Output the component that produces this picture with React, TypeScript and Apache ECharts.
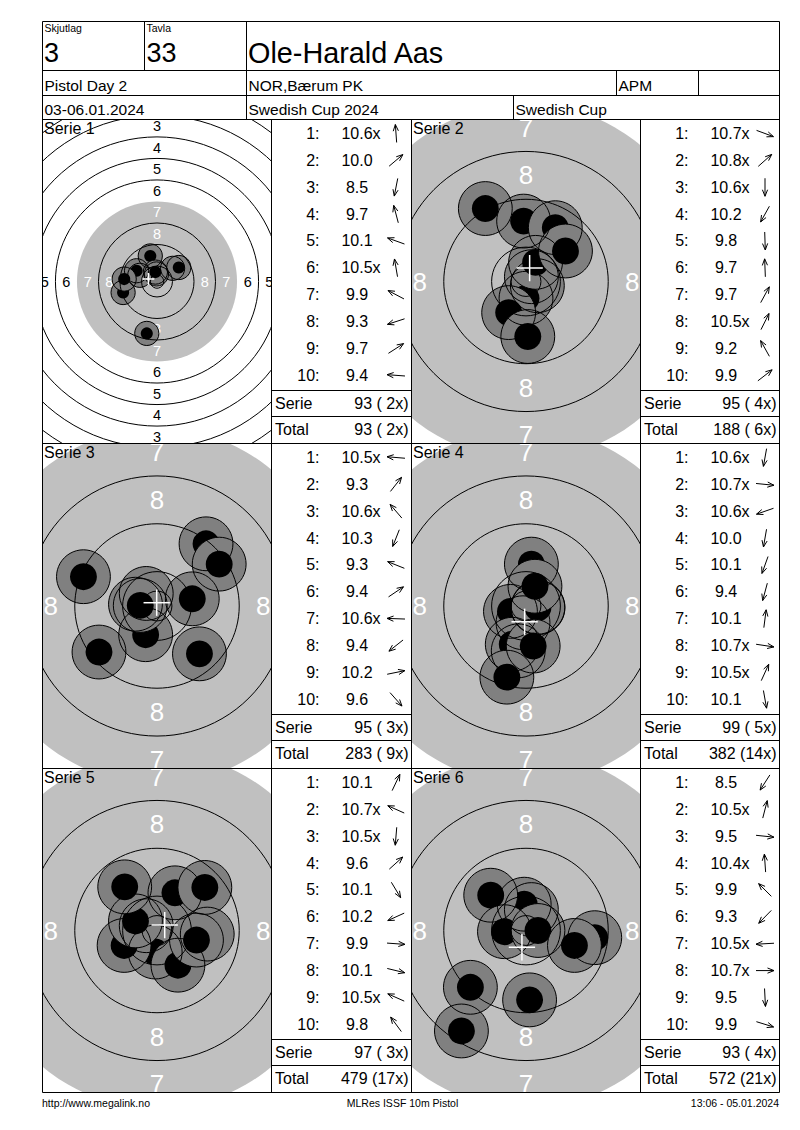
import React, { useEffect, useRef } from "react";
import * as echarts from "echarts";

const FONT = '"Liberation Sans", Arial, sans-serif';

// ---------- header texts ----------
const headerLabels = ["Skjutlag", "Tavla"];
const headerValues = ["3", "33"];
const shooterName = "Ole-Harald Aas";
const eventName = "Pistol Day 2";
const clubName = "NOR,Bærum PK";
const classCode = "APM";
const dateText = "03-06.01.2024";
const competitionName = "Swedish Cup 2024";
const cupName = "Swedish Cup";
const footerTexts = ["http://www.megalink.no", "MLRes ISSF 10m Pistol", "13:06 - 05.01.2024"];

// ---------- series data ----------
const serieNames = ["Serie 1", "Serie 2", "Serie 3", "Serie 4", "Serie 5", "Serie 6"];

const s1Score = [10.6, 10.0, 8.5, 9.7, 10.1, 10.5, 9.9, 9.3, 9.7, 9.4];
const s1Inner = [1, 0, 0, 0, 0, 1, 0, 0, 0, 0];
const s1X = [-0.2, 5.8, -3.8, -2.5, -6.4, -0.6, -7.6, -12.6, 8.1, -12.2];
const s1Y = [2.8, 4.9, -19.3, 9.5, 2.3, 3.5, 4.0, -4.1, 5.2, 0.9];

const s2Score = [10.7, 10.8, 10.6, 10.2, 9.8, 9.7, 9.7, 10.5, 9.2, 9.9];
const s2Inner = [1, 1, 1, 0, 0, 0, 0, 1, 0, 0];
const s2X = [1.9, 0.9, 0.0, -2.9, 0.3, -0.4, 4.9, 1.6, -6.8, 6.6];
const s2Y = [-0.7, 0.8, -2.8, -5.2, -9.2, 10.1, 9.0, 3.2, 12.2, 5.1];

const s3Score = [10.5, 9.3, 10.6, 10.3, 9.3, 9.4, 10.6, 9.4, 10.2, 9.6];
const s3Inner = [1, 0, 1, 0, 0, 0, 1, 0, 0, 0];
const s3X = [-3.6, 8.2, -1.8, -1.9, -12.3, 10.4, -2.8, -9.7, 5.9, 7.1];
const s3Y = [0.3, 10.4, 2.1, -4.8, 4.9, 7.0, 0.1, -7.7, 1.2, -8.0];

const s4Score = [10.6, 10.7, 10.6, 10.0, 10.1, 9.4, 10.1, 10.7, 10.5, 10.1];
const s4Inner = [1, 1, 1, 0, 0, 0, 0, 1, 1, 0];
const s4X = [-0.5, 2.0, -2.6, -1.3, -2.3, -3.2, 0.9, 2.0, 1.5, 1.2];
const s4Y = [-2.8, -0.2, -0.9, -7.5, -6.4, -11.9, 7.0, -0.3, 3.3, -6.7];

const s5Score = [10.1, 10.7, 10.5, 9.6, 10.1, 10.2, 9.9, 10.1, 10.5, 9.8];
const s5Inner = [0, 1, 1, 0, 0, 0, 0, 0, 1, 0];
const s5X = [3.0, -1.8, -0.3, 8.0, 3.5, -5.5, 8.4, 6.6, -3.6, -5.4];
const s5Y = [6.3, 0.8, -3.6, 7.2, -5.8, -2.5, -0.6, -1.6, 1.6, 7.3];

const s6Score = [8.5, 10.5, 9.5, 10.4, 9.9, 9.3, 10.5, 10.7, 9.5, 9.9];
const s6Inner = [0, 1, 0, 1, 0, 0, 1, 1, 0, 0];
const s6X = [-10.8, 0.9, 11.5, -0.3, -5.9, -9.3, -3.6, 2.0, 0.6, 8.1];
const s6Y = [-16.8, 3.5, -1.2, 4.4, 5.9, -9.5, -0.2, 0.0, -11.6, -2.5];

const serieTotals = [93, 95, 95, 99, 97, 93];
const serieInners = [2, 4, 3, 5, 3, 4];
const runningTotals = [93, 188, 283, 382, 479, 572];
const runningInners = [2, 6, 9, 14, 17, 21];

// ---------- target geometry (mm) ----------
const ringNumbers = [1, 2, 3, 4, 5, 6, 7, 8, 9, 10];
const ringRadiiMm = [77.75, 69.75, 61.75, 53.75, 45.75, 37.75, 29.75, 21.75, 13.75, 5.75];
const ringLabelNumbers = [1, 2, 3, 4, 5, 6, 7, 8];
const innerTenRadiusMm = 2.5;
const shotOuterMm = 4.5;
const pelletMm = 2.25;
const crossHalfMm = 2.2;

const shots = [
  { score: s1Score, inner: s1Inner, x: s1X, y: s1Y },
  { score: s2Score, inner: s2Inner, x: s2X, y: s2Y },
  { score: s3Score, inner: s3Inner, x: s3X, y: s3Y },
  { score: s4Score, inner: s4Inner, x: s4X, y: s4Y },
  { score: s5Score, inner: s5Inner, x: s5X, y: s5Y },
  { score: s6Score, inner: s6Inner, x: s6X, y: s6Y },
];

// ---------- layout ----------
const L = 42.5;
const R = 779.5;
const TOP = 21.5;
const rowTops = [119.5, 443.5, 768.5];
const BOTTOM = 1092.5;
const targetLefts = [42.5, 411.5];
const tableLefts = [271.5, 640.5];
const tableRights = [411.5, 779.5];
const TARGET_W = 229;
const panelScale = [2.69, 5.98, 5.98, 5.98, 5.98, 5.98];
const labelFontSize = [14.5, 26, 26, 26, 26, 26];

function txt(text: string, x: number, y: number, size: number, align = "left", color = "#000") {
  return {
    type: "text",
    x,
    y,
    z: 10,
    silent: true,
    style: {
      text,
      fill: color,
      fontSize: size,
      fontFamily: FONT,
      align,
      verticalAlign: "middle",
      textAlign: align,
      textVerticalAlign: "middle",
    },
  };
}

function ln(x1: number, y1: number, x2: number, y2: number) {
  return {
    type: "line",
    z: 10,
    silent: true,
    shape: { x1, y1, x2, y2 },
    style: { stroke: "#000", lineWidth: 1 },
  };
}

function buildOption() {
  const ctx = document.createElement("canvas").getContext("2d")!;
  ctx.font = `16px ${FONT}`;

  const graphic: any[] = [];
  // outer frame and header lines
  [TOP, 70.5, 95.5, 119.5, 443.5, 768.5, BOTTOM].forEach((y) => graphic.push(ln(L, y, R, y)));
  graphic.push(ln(L, TOP, L, BOTTOM));
  graphic.push(ln(R, TOP, R, BOTTOM));
  graphic.push(ln(144.5, TOP, 144.5, 70.5));
  graphic.push(ln(246.5, TOP, 246.5, 119.5));
  graphic.push(ln(616.5, 70.5, 616.5, 95.5));
  graphic.push(ln(698.5, 70.5, 698.5, 95.5));
  graphic.push(ln(513.5, 95.5, 513.5, 119.5));
  [271.5, 411.5, 640.5].forEach((x) => graphic.push(ln(x, 119.5, x, BOTTOM)));

  // header texts
  graphic.push(txt(headerLabels[0], 44.5, 27.5, 10.5));
  graphic.push(txt(headerLabels[1], 146.5, 27.5, 10.5));
  graphic.push(txt(headerValues[0], 44, 53, 27));
  graphic.push(txt(headerValues[1], 146.5, 53, 27));
  graphic.push(txt(shooterName, 248, 53, 28.8));
  graphic.push(txt(eventName, 44.5, 85.5, 15.5));
  graphic.push(txt(clubName, 248.5, 85.5, 15.5));
  graphic.push(txt(classCode, 618.5, 85.5, 15.5));
  graphic.push(txt(dateText, 44.5, 109, 15.5));
  graphic.push(txt(competitionName, 248.5, 109, 15.5));
  graphic.push(txt(cupName, 515.5, 109, 15.5));

  // footer
  graphic.push(txt(footerTexts[0], 42, 1102.5, 10.5, "left"));
  graphic.push(txt(footerTexts[1], 402.5, 1102.5, 10.5, "center"));
  graphic.push(txt(footerTexts[2], 779, 1102.5, 10.5, "right"));

  const grid: any[] = [];
  const xAxis: any[] = [];
  const yAxis: any[] = [];
  const series: any[] = [];

  serieNames.forEach((name, i) => {
    const row = Math.floor(i / 2);
    const col = i % 2;
    const top = rowTops[row];
    const bottom = row < 2 ? rowTops[row + 1] : BOTTOM;
    const h = bottom - top;
    const left = targetLefts[col];
    const tl = tableLefts[col];
    const tr = tableRights[col];
    const sc = panelScale[i];
    const halfX = TARGET_W / 2 / sc;
    const halfY = h / 2 / sc;
    const s = shots[i];

    grid.push({ left, top, width: TARGET_W, height: h, show: false });
    xAxis.push({ gridIndex: i, type: "value", min: -halfX, max: halfX, show: false });
    yAxis.push({ gridIndex: i, type: "value", min: -halfY, max: halfY, show: false });

    const fsz = labelFontSize[i];
    // background: aiming disc + ring numbers
    series.push({
      type: "custom",
      coordinateSystem: "cartesian2d",
      xAxisIndex: i,
      yAxisIndex: i,
      clip: true,
      silent: true,
      z: 1,
      data: [[0, 0]],
      renderItem: (params: any, api: any) => {
        const cs = params.coordSys;
        const c = api.coord([0, 0]);
        const r7 = api.size([ringRadiiMm[ringNumbers.indexOf(7)], 0])[0];
        const children: any[] = [
          { type: "circle", shape: { cx: c[0], cy: c[1], r: r7 }, style: { fill: "#c0c0c0" } },
        ];
        ringLabelNumbers.forEach((n) => {
          const rr = api.size([ringRadiiMm[ringNumbers.indexOf(n)] - 4, 0])[0];
          [
            [0, -1],
            [0, 1],
            [-1, 0],
            [1, 0],
          ].forEach(([dx, dy]) => {
            const lx = c[0] + dx * rr;
            const ly = c[1] + dy * rr;
            // only labels whose centre lies inside the visible panel
            if (lx < cs.x || lx > cs.x + cs.width || ly < cs.y || ly > cs.y + cs.height) return;
            children.push({
              type: "text",
              x: lx,
              y: ly,
              style: {
                text: String(n),
                fill: n >= 7 ? "#ffffff" : "#000000",
                fontSize: fsz,
                fontFamily: FONT,
                align: "center",
                verticalAlign: "middle",
                textAlign: "center",
                textVerticalAlign: "middle",
              },
            });
          });
        });
        return { type: "group", children };
      },
    });

    const shotData = s.x.map((x, k) => [x, s.y[k]]);
    // shots (filled)
    series.push({
      type: "custom",
      coordinateSystem: "cartesian2d",
      xAxisIndex: i,
      yAxisIndex: i,
      clip: true,
      silent: true,
      z: 2,
      data: shotData,
      renderItem: (_p: any, api: any) => {
        const p = api.coord([api.value(0), api.value(1)]);
        const ro = api.size([shotOuterMm, 0])[0];
        const ri = api.size([pelletMm, 0])[0];
        return {
          type: "group",
          children: [
            { type: "circle", shape: { cx: p[0], cy: p[1], r: ro }, style: { fill: "#808080" } },
            { type: "circle", shape: { cx: p[0], cy: p[1], r: ri }, style: { fill: "#000000" } },
          ],
        };
      },
    });
    // shot outlines
    series.push({
      type: "custom",
      coordinateSystem: "cartesian2d",
      xAxisIndex: i,
      yAxisIndex: i,
      clip: true,
      silent: true,
      z: 3,
      data: shotData,
      renderItem: (_p: any, api: any) => {
        const p = api.coord([api.value(0), api.value(1)]);
        const ro = api.size([shotOuterMm, 0])[0];
        return {
          type: "circle",
          shape: { cx: p[0], cy: p[1], r: ro },
          style: { fill: "none", stroke: "#000", lineWidth: 1 },
        };
      },
    });
    // ring lines
    const ringLineData = ringRadiiMm
      .filter((_r, idx) => ringNumbers[idx] !== 7)
      .concat([innerTenRadiusMm])
      .map((r) => [0, 0, r]);
    series.push({
      type: "custom",
      coordinateSystem: "cartesian2d",
      xAxisIndex: i,
      yAxisIndex: i,
      clip: true,
      silent: true,
      z: 3,
      data: ringLineData,
      renderItem: (_p: any, api: any) => {
        const c = api.coord([api.value(0), api.value(1)]);
        const r = api.size([api.value(2), 0])[0];
        return {
          type: "circle",
          shape: { cx: c[0], cy: c[1], r },
          style: { fill: "none", stroke: "#000", lineWidth: 1 },
        };
      },
    });
    // mean point of impact cross
    const mx = s.x.reduce((a, b) => a + b, 0) / s.x.length;
    const my = s.y.reduce((a, b) => a + b, 0) / s.y.length;
    series.push({
      type: "custom",
      coordinateSystem: "cartesian2d",
      xAxisIndex: i,
      yAxisIndex: i,
      clip: true,
      silent: true,
      z: 4,
      data: [[mx, my]],
      renderItem: (_p: any, api: any) => {
        const p = api.coord([api.value(0), api.value(1)]);
        const hl = api.size([crossHalfMm, 0])[0];
        return {
          type: "group",
          children: [
            { type: "line", shape: { x1: p[0] - hl, y1: p[1], x2: p[0] + hl, y2: p[1] }, style: { stroke: "#fff", lineWidth: 1.5 } },
            { type: "line", shape: { x1: p[0], y1: p[1] - hl, x2: p[0], y2: p[1] + hl }, style: { stroke: "#fff", lineWidth: 1.5 } },
          ],
        };
      },
    });

    // panel label
    graphic.push(txt(name, left + 1.5, top + 9, 16));

    // table
    graphic.push(ln(tl, top + 271, tr, top + 271));
    graphic.push(ln(tl, top + 297, tr, top + 297));
    s.score.forEach((sv, k) => {
      const y = top + 14 + k * 26.87;
      graphic.push(txt(`${k + 1}:`, tl + 48, y, 16, "right"));
      const numText = sv.toFixed(1);
      const cx = tl + 85.5;
      graphic.push(txt(numText, cx, y, 16, "center"));
      if (s.inner[k]) {
        const w = ctx.measureText(numText).width;
        graphic.push(txt("x", cx + w / 2, y, 16, "left"));
      }
      // direction arrow
      const a = Math.atan2(s.y[k], s.x[k]);
      const ax = tl + 124.5;
      const hl = 9;
      const tipX = ax + hl * Math.cos(a);
      const tipY = y - hl * Math.sin(a);
      const tailX = ax - hl * Math.cos(a);
      const tailY = y + hl * Math.sin(a);
      const hd = 7;
      const spread = 0.38;
      const h1x = tipX + hd * Math.cos(a + Math.PI - spread);
      const h1y = tipY - hd * Math.sin(a + Math.PI - spread);
      const h2x = tipX + hd * Math.cos(a + Math.PI + spread);
      const h2y = tipY - hd * Math.sin(a + Math.PI + spread);
      graphic.push({
        type: "line",
        z: 10,
        silent: true,
        shape: { x1: tailX, y1: tailY, x2: tipX, y2: tipY },
        style: { stroke: "#000", lineWidth: 1 },
      });
      graphic.push({
        type: "polyline",
        z: 10,
        silent: true,
        shape: { points: [[h1x, h1y], [tipX, tipY], [h2x, h2y]] },
        style: { stroke: "#000", lineWidth: 1, fill: "none" },
      });
    });
    const fmt = (t: number, x: number) => `${t} (${x < 10 ? " " + x : x}x)`;
    graphic.push(txt("Serie", tl + 3.5, top + 284, 16, "left"));
    graphic.push(txt(fmt(serieTotals[i], serieInners[i]), tr - 3, top + 284, 16, "right"));
    graphic.push(txt("Total", tl + 3.5, top + 310, 16, "left"));
    graphic.push(txt(fmt(runningTotals[i], runningInners[i]), tr - 3, top + 310, 16, "right"));
  });

  return {
    animation: false,
    backgroundColor: "#ffffff",
    grid,
    xAxis,
    yAxis,
    series,
    graphic: { elements: graphic },
  };
}

export default function App() {
  const ref = useRef<HTMLDivElement>(null);
  useEffect(() => {
    document.body.style.margin = "0";
    const chart = echarts.init(ref.current!, undefined, { renderer: "svg" });
    chart.setOption(buildOption() as any);
    return () => chart.dispose();
  }, []);
  return (
    <div
      ref={ref}
      style={{ position: "absolute", left: 0, top: 0, width: 800, height: 1130, background: "#fff" }}
    />
  );
}
